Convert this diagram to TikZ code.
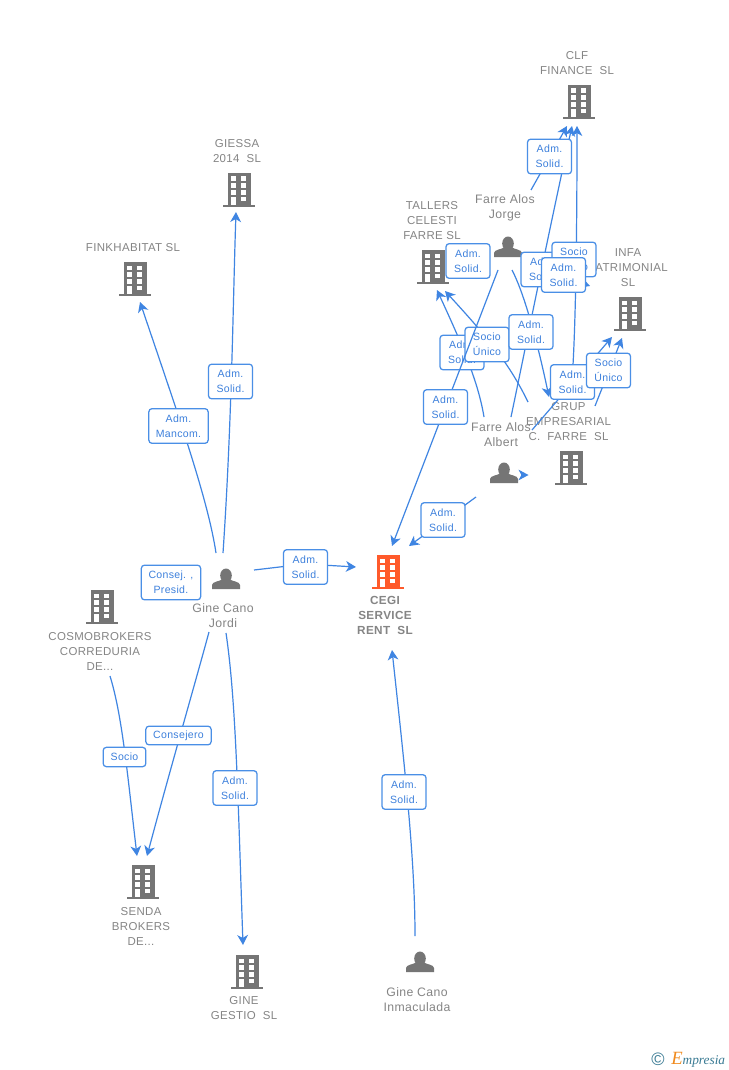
\documentclass[tikz,border=0pt]{standalone}
\usepackage{fontspec}
\setmainfont[LetterSpace=3]{Liberation Sans}
\newfontfamily\logofont{Liberation Serif}
\newfontfamily\copyfont{Liberation Sans}
\usetikzlibrary{arrows.meta}
\definecolor{edgeblue}{HTML}{3F85E2}
\definecolor{boxblue}{HTML}{4A8FE6}
\definecolor{labelblue}{HTML}{3D80DC}
\definecolor{bldgrey}{HTML}{757575}
\definecolor{txtgrey}{HTML}{858585}
\definecolor{cegi}{HTML}{FF5A2B}
\definecolor{logoteal}{HTML}{3A7B94}
\definecolor{logoorange}{HTML}{F08A1D}
\tikzset{
  x=0.75pt,y=-0.75pt,
  edge/.style={draw=edgeblue,line width=0.9pt,-{Stealth[length=7.5pt,width=8pt,inset=2.2pt]}},
  rel/.style={draw=boxblue,fill=white,rounded corners=2.4pt,line width=0.95pt,text=labelblue,
    font=\fontsize{7.9}{11.25}\selectfont,align=center,inner sep=0pt,minimum width=33pt,minimum height=26pt},
  ent/.style={text=txtgrey,font=\fontsize{8.6}{11.25}\selectfont,align=center,inner sep=0pt},
  pers/.style={ent,font=\fontsize{9.2}{11.25}\selectfont},
  entb/.style={ent,font=\fontsize{8.8}{11.25}\selectfont\bfseries},
  holder/.style={inner sep=0pt,minimum width=24pt,minimum height=26pt},
  building/.pic={
    \fill[pic actions] (-11.5,-17) rectangle (11.5,15);
    \fill[pic actions] (-16,15) rectangle (16,17);
    \foreach \yy in {-13.5,-6.7,0}{
      \fill[white] (-8.5,\yy) rectangle (-3,\yy+4.6);
      \fill[white] (1.5,\yy) rectangle (7,\yy+4.6);
    }
    \fill[white] (-8.5,6.8) rectangle (-3,15);
    \fill[white] (1.5,6.8) rectangle (7,11.4);
  },
  person/.pic={
    \fill[pic actions] (0,0.5) ellipse (5.8 and 7);
    \fill[pic actions] (-14,14) -- (-14,10) .. controls (-14,6.5) and (-6,6.5) .. (-3.5,4)
      -- (3.5,4) .. controls (6,6.5) and (14,6.5) .. (14,10) -- (14,14) -- cycle;
  }
}
\newcommand{\bld}[4][bldgrey]{\node[holder] (#2) at (#3,#4) {}; \pic[fill=#1] at (#2.center) {building};}
\newcommand{\psn}[3]{\node[holder] (#1) at (#2,#3) {}; \pic[fill=bldgrey] at (#1.center) {person};}
\begin{document}
\begin{tikzpicture}
\useasboundingbox[fill=white] (0,0) rectangle (728,1070);
% entities
\bld{clf}{579}{102}
\bld{giessa}{239}{190}
\bld{fink}{135}{279}
\bld{tallers}{433}{267}
\bld{infa}{630}{314}
\bld{grup}{571}{468}
\bld[cegi]{cegi}{388}{572}
\bld{cosmo}{102}{607}
\bld{senda}{143}{882}
\bld{gestio}{247}{972}
\psn{jorge}{508}{243}
\psn{albert}{504}{469}
\psn{jordi}{226}{575}
\psn{inma}{420}{958}
% entity texts
\node[ent] (tclf) at (577,63.5) {CLF\\FINANCE\ \ SL};
\node[ent] (tgiessa) at (237,151.5) {GIESSA\\2014\ \ SL};
\node[ent] (tfink) at (133,248) {FINKHABITAT SL};
\node[ent] (ttallers) at (432,221) {TALLERS\\CELESTI\\FARRE SL};
\node[pers] (tjorge) at (505,208) {Farre Alos\\Jorge};
\node[ent] (tinfa) at (628,268) {INFA\\PATRIMONIAL\\SL};
\node[ent] (tgrup) at (568.5,422) {GRUP\\EMPRESARIAL\\C.\ \ FARRE\ \ SL};
\node[pers] (talbert) at (501,435) {Farre Alos\\Albert};
\node[pers] (tjordi) at (223,616) {Gine Cano\\Jordi};
\node[entb] (tcegi) at (385,615.5) {CEGI\\SERVICE\\RENT\ \ SL};
\node[ent] (tcosmo) at (100,651) {COSMOBROKERS\\CORREDURIA\\DE...};
\node[ent] (tsenda) at (141,926) {SENDA\\BROKERS\\DE...};
\node[ent] (tgestio) at (244,1008.5) {GINE\\GESTIO\ \ SL};
\node[pers] (tinma) at (417,999.5) {Gine Cano\\Inmaculada};
% free ends
\foreach \n/\x/\y in {
  a1/223/553,a2/236/212,b1/216/553,b2/140/302,c1/254/570,c2/356/567,
  d1/209/632,d2/147/856,e1/226/633,e2/243/945,f1/110/676,f2/137/856,
  g1/415/936,g2/392/650,h1/476/497,h2/409/546,i1/498/270,i2/392/546,
  j1/531/190,j2/567/126,k1/511/417,k2/572/126,l1/573/365,l2/577/126,
  m1/512/270,m2/549/397,n1/484/417,n2/437/290,o1/528/402,o2/445/291,
  p1/595/406,p2/622/338,q1/532/430,q2/612/337,r1/521/262,r2/590/286,
  s1/521/475,s2/528.5/475}
  {\coordinate (\n) at (\x,\y);}
% connectors
\draw[edge] (a1) .. controls (232,420) and (233,300) .. (a2);
\draw[edge] (b1) .. controls (208,500) and (180,420) .. (b2);
\draw[edge] (c1) -- (305,564) -- (c2);
\draw[edge] (d1) .. controls (196,680) and (170,770) .. (d2);
\draw[edge] (e1) .. controls (236,700) and (238,800) .. (e2);
\draw[edge] (f1) .. controls (122,715) and (127,770) .. (f2);
\draw[edge] (g1) .. controls (415,860) and (405,770) .. (g2);
\draw[edge] (h1) -- (h2);
\draw[edge] (j1) -- (j2);
\draw[edge] (k1) .. controls (525,350) and (545,250) .. (k2);
\draw[edge] (l1) .. controls (576,310) and (577,220) .. (l2);
\draw[edge] (m1) .. controls (525,295) and (538,345) .. (m2);
\draw[edge] (n1) .. controls (478,380) and (460,340) .. (n2);
\draw[edge] (o1) .. controls (510,365) and (490,340) .. (o2);
\draw[edge] (p1) -- (p2);
\draw[edge] (q1) -- (q2);
\draw[edge] (r1) -- (r2);
\draw[edge] (s1) -- (s2);
% labels
\node[rel] (l1a) at (230.5,381.5) {Adm.\\Solid.};
\node[rel,minimum width=44.5pt] (l1b) at (178.5,426) {Adm.\\Mancom.};
\node[rel] (l1c) at (305.5,567) {Adm.\\Solid.};
\node[rel,minimum width=44.5pt] (l1d) at (171,582.5) {Consej. ,\\Presid.};
\node[rel,minimum width=49pt,minimum height=14pt] (l1e) at (178.5,735.5) {Consejero};
\node[rel,minimum width=32pt,minimum height=14.5pt] (l1f) at (124.5,757) {Socio};
\node[rel] (l1g) at (235,788) {Adm.\\Solid.};
\node[rel] (l1h) at (404,792) {Adm.\\Solid.};
\node[rel] (l1i) at (443,520) {Adm.\\Solid.};
\node[rel] (l1j) at (549.5,156.5) {Adm.\\Solid.};
\node[rel] (l1k) at (468,261) {Adm.\\Solid.};
\node[rel] (l1l) at (543,269.5) {Adm.\\Solid.};
\node[rel] (l1m) at (574,259.5) {Socio\\Único};
\node[rel] (l1n) at (563.5,275) {Adm.\\Solid.};
\node[rel] (l1o) at (462,352.5) {Adm.\\Solid.};
\node[rel] (l1p) at (487,344.5) {Socio\\Único};
\node[rel] (l1q) at (531,332) {Adm.\\Solid.};
\node[rel] (l1r) at (572.5,382) {Adm.\\Solid.};
\node[rel] (l1s) at (608.5,370.5) {Socio\\Único};
\draw[edge] (i1) -- (i2);
\node[rel] (l1t) at (445.5,407) {Adm.\\Solid.};
% logo
\node[inner sep=0pt,text=logoteal,font=\copyfont\fontsize{13.5}{13.5}\selectfont] (copy) at (658,1059.5) {©};
\node[inner sep=0pt,anchor=west,font=\logofont\itshape\fontsize{10}{10}\selectfont] (logo) at (671,1060)
  {\textcolor{logoorange}{\fontsize{14}{14}\selectfont E}\textcolor{logoteal}{mpresia}};
\end{tikzpicture}
\end{document}
